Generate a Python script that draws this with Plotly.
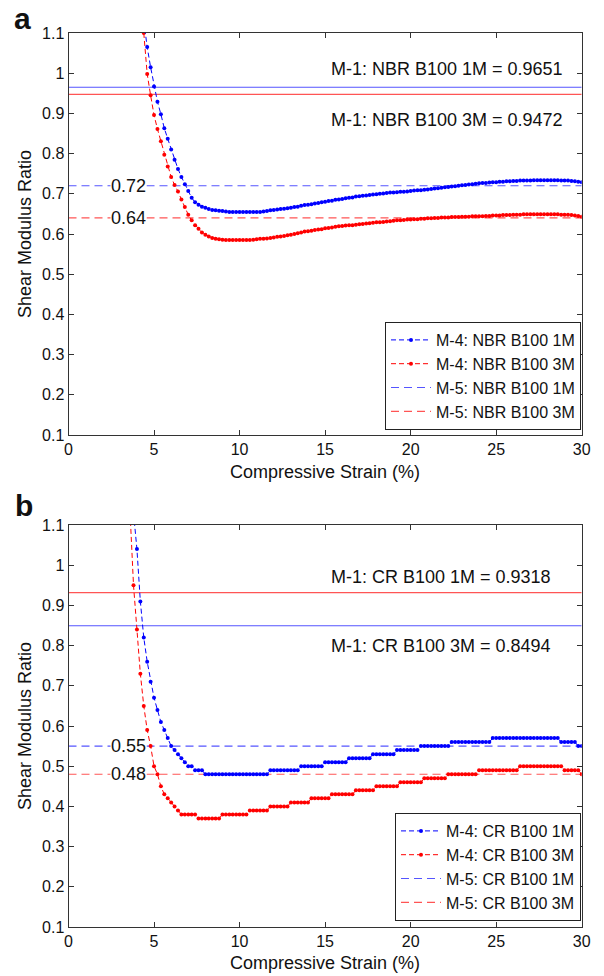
import plotly.graph_objects as go

# ---------------- data ----------------
STRAIN = [3.6, 3.8, 4.0, 4.2, 4.4, 4.6, 4.8, 5.0, 5.2, 5.4, 5.6, 5.8, 6.0, 6.2, 6.4, 6.6, 6.8, 7.0, 7.2, 7.4,
          7.6, 7.8, 8.0, 8.2, 8.4, 8.6, 8.8, 9.0, 9.2, 9.4, 9.6, 9.8, 10.0, 10.2, 10.4, 10.6, 10.8, 11.0, 11.2, 11.4,
          11.6, 11.8, 12.0, 12.2, 12.4, 12.6, 12.8, 13.0, 13.2, 13.4, 13.6, 13.8, 14.0, 14.2, 14.4, 14.6, 14.8, 15.0,
          15.2, 15.4, 15.6, 15.8, 16.0, 16.2, 16.4, 16.6, 16.8, 17.0, 17.2, 17.4, 17.6, 17.8, 18.0, 18.2, 18.4, 18.6,
          18.8, 19.0, 19.2, 19.4, 19.6, 19.8, 20.0, 20.2, 20.4, 20.6, 20.8, 21.0, 21.2, 21.4, 21.6, 21.8, 22.0, 22.2,
          22.4, 22.6, 22.8, 23.0, 23.2, 23.4, 23.6, 23.8, 24.0, 24.2, 24.4, 24.6, 24.8, 25.0, 25.2, 25.4, 25.6, 25.8,
          26.0, 26.2, 26.4, 26.6, 26.8, 27.0, 27.2, 27.4, 27.6, 27.8, 28.0, 28.2, 28.4, 28.6, 28.8, 29.0, 29.2, 29.4,
          29.6, 29.8, 30.0]

# Panel a: M-4 NBR B100 1M (strain 4.4 .. 30.0)
NBR_1M = [1.13, 1.065, 1.015, 0.967, 0.929, 0.898, 0.863, 0.837, 0.810, 0.785,
          0.762, 0.742, 0.724, 0.707, 0.690, 0.679, 0.673, 0.668, 0.665, 0.662,
          0.660, 0.659, 0.658, 0.657, 0.656, 0.655, 0.655, 0.655, 0.655, 0.655,
          0.655, 0.655, 0.655, 0.655, 0.655, 0.656, 0.657, 0.659, 0.660, 0.661,
          0.662, 0.663, 0.664, 0.665, 0.667, 0.668, 0.670, 0.672, 0.673, 0.674,
          0.676, 0.677, 0.679, 0.680, 0.682, 0.683, 0.685, 0.686, 0.687, 0.689,
          0.690, 0.691, 0.693, 0.694, 0.695, 0.696, 0.697, 0.698, 0.699, 0.700,
          0.701, 0.702, 0.703, 0.703, 0.704, 0.705, 0.705, 0.706, 0.707, 0.708,
          0.709, 0.709, 0.710, 0.711, 0.712, 0.713, 0.714, 0.715, 0.716, 0.717,
          0.718, 0.719, 0.720, 0.721, 0.722, 0.723, 0.724, 0.725, 0.726, 0.727,
          0.727, 0.728, 0.729, 0.729, 0.730, 0.730, 0.731, 0.731, 0.732, 0.732,
          0.733, 0.733, 0.733, 0.733, 0.734, 0.734, 0.734, 0.734, 0.734, 0.734,
          0.734, 0.734, 0.733, 0.733, 0.733, 0.732, 0.731, 0.730, 0.729]

# Panel a: M-4 NBR B100 3M (strain 4.4 .. 30.0)
NBR_3M = [1.10, 0.998, 0.945, 0.896, 0.861, 0.831, 0.797, 0.768, 0.742, 0.722,
          0.706, 0.686, 0.667, 0.648, 0.634, 0.622, 0.613, 0.604, 0.598, 0.594,
          0.590, 0.588, 0.587, 0.586, 0.585, 0.585, 0.585, 0.585, 0.585, 0.585,
          0.585, 0.585, 0.586, 0.587, 0.588, 0.588, 0.589, 0.590, 0.591, 0.593,
          0.594, 0.595, 0.597, 0.598, 0.600, 0.602, 0.604, 0.606, 0.607, 0.608,
          0.610, 0.611, 0.612, 0.614, 0.615, 0.616, 0.618, 0.619, 0.620, 0.621,
          0.622, 0.622, 0.623, 0.624, 0.625, 0.626, 0.627, 0.628, 0.629, 0.629,
          0.630, 0.631, 0.632, 0.633, 0.634, 0.634, 0.635, 0.636, 0.636, 0.637,
          0.637, 0.638, 0.638, 0.639, 0.639, 0.640, 0.640, 0.641, 0.641, 0.641,
          0.642, 0.642, 0.642, 0.643, 0.643, 0.643, 0.644, 0.644, 0.644, 0.644,
          0.645, 0.645, 0.646, 0.646, 0.646, 0.647, 0.647, 0.647, 0.648, 0.648,
          0.648, 0.649, 0.649, 0.649, 0.649, 0.649, 0.649, 0.649, 0.649, 0.649,
          0.649, 0.649, 0.648, 0.648, 0.648, 0.647, 0.646, 0.645, 0.643]

# Panel b: M-4 CR B100 1M (strain 3.8 .. 30.0)
CR_1M = [1.13, 1.04, 0.91, 0.82, 0.76, 0.71, 0.67, 0.64, 0.61, 0.59,
         0.57, 0.55, 0.54, 0.53, 0.52, 0.51, 0.50, 0.50, 0.49, 0.49,
         0.49, 0.48, 0.48, 0.48, 0.48, 0.48, 0.48, 0.48, 0.48, 0.48,
         0.48, 0.48, 0.48, 0.48, 0.48, 0.48, 0.48, 0.48, 0.48, 0.48,
         0.49, 0.49, 0.49, 0.49, 0.49, 0.49, 0.49, 0.49, 0.49, 0.50,
         0.50, 0.50, 0.50, 0.50, 0.50, 0.50, 0.51, 0.51, 0.51, 0.51,
         0.51, 0.51, 0.51, 0.52, 0.52, 0.52, 0.52, 0.52, 0.52, 0.52,
         0.53, 0.53, 0.53, 0.53, 0.53, 0.53, 0.53, 0.54, 0.54, 0.54,
         0.54, 0.54, 0.54, 0.54, 0.55, 0.55, 0.55, 0.55, 0.55, 0.55,
         0.55, 0.55, 0.55, 0.56, 0.56, 0.56, 0.56, 0.56, 0.56, 0.56,
         0.56, 0.56, 0.56, 0.56, 0.56, 0.57, 0.57, 0.57, 0.57, 0.57,
         0.57, 0.57, 0.57, 0.57, 0.57, 0.57, 0.57, 0.57, 0.57, 0.57,
         0.57, 0.57, 0.57, 0.57, 0.57, 0.56, 0.56, 0.56, 0.56, 0.56,
         0.55, 0.55]

# Panel b: M-4 CR B100 3M (strain 3.6 .. 30.0)
CR_3M = [1.13, 0.95, 0.84, 0.73, 0.65, 0.59, 0.55, 0.50, 0.48, 0.45,
         0.43, 0.42, 0.41, 0.40, 0.39, 0.38, 0.38, 0.38, 0.38, 0.38,
         0.37, 0.37, 0.37, 0.37, 0.37, 0.37, 0.37, 0.38, 0.38, 0.38,
         0.38, 0.38, 0.38, 0.38, 0.38, 0.39, 0.39, 0.39, 0.39, 0.39,
         0.39, 0.40, 0.40, 0.40, 0.40, 0.40, 0.40, 0.41, 0.41, 0.41,
         0.41, 0.41, 0.41, 0.42, 0.42, 0.42, 0.42, 0.42, 0.42, 0.43,
         0.43, 0.43, 0.43, 0.43, 0.43, 0.43, 0.44, 0.44, 0.44, 0.44,
         0.44, 0.44, 0.45, 0.45, 0.45, 0.45, 0.45, 0.45, 0.45, 0.46,
         0.46, 0.46, 0.46, 0.46, 0.46, 0.46, 0.47, 0.47, 0.47, 0.47,
         0.47, 0.47, 0.47, 0.48, 0.48, 0.48, 0.48, 0.48, 0.48, 0.48,
         0.48, 0.48, 0.49, 0.49, 0.49, 0.49, 0.49, 0.49, 0.49, 0.49,
         0.49, 0.49, 0.49, 0.49, 0.50, 0.50, 0.50, 0.50, 0.50, 0.50,
         0.50, 0.50, 0.50, 0.50, 0.50, 0.50, 0.50, 0.49, 0.49, 0.49,
         0.49, 0.49, 0.48]

# M-5 (dashed) and M-1 (solid) reference levels
M5_A = {"1M": 0.72, "3M": 0.64}
M1_A = {"1M": 0.9651, "3M": 0.9472}
M5_B = {"1M": 0.55, "3M": 0.48}
M1_B = {"1M": 0.9318, "3M": 0.8494}

X_RANGE = [0, 30]
Y_RANGE = [0.1, 1.1]
X_TICKS = [0, 5, 10, 15, 20, 25, 30]


def xs_for(vals):
    return STRAIN[len(STRAIN) - len(vals):]


# ---------------- figure ----------------
W, H = 604, 976
FONT = "Liberation Sans, Arial, Helvetica, sans-serif"
BLUE, RED = "rgb(0,0,255)", "rgb(255,0,0)"
LBLUE, LRED = "rgb(85,85,255)", "rgb(255,85,85)"
DASH = "8px,5px"

X0, X1 = 68.5, 581.7
A_TOP, A_BOT = 33, 435
B_TOP, B_BOT = 525, 927

fig = go.Figure()


def add_panel(xa, ya, leg, v1m, v3m, m5, m1, mat, m1_colors):
    # M-1 solid lines (colours as drawn in the original)
    fig.add_trace(go.Scatter(x=X_RANGE, y=[m1["1M"]] * 2, mode="lines", xaxis=xa, yaxis=ya,
                             line=dict(color=m1_colors[0], width=1.2), showlegend=False, hoverinfo="skip"))
    fig.add_trace(go.Scatter(x=X_RANGE, y=[m1["3M"]] * 2, mode="lines", xaxis=xa, yaxis=ya,
                             line=dict(color=m1_colors[1], width=1.2), showlegend=False, hoverinfo="skip"))
    # M-5 dashed
    fig.add_trace(go.Scatter(x=X_RANGE, y=[m5["1M"]] * 2, mode="lines", xaxis=xa, yaxis=ya,
                             name=f"M-5: {mat} B100 1M", legend=leg, legendrank=3,
                             line=dict(color=LBLUE, width=1.2, dash=DASH)))
    fig.add_trace(go.Scatter(x=X_RANGE, y=[m5["3M"]] * 2, mode="lines", xaxis=xa, yaxis=ya,
                             name=f"M-5: {mat} B100 3M", legend=leg, legendrank=4,
                             line=dict(color=LRED, width=1.2, dash=DASH)))
    # M-4 curves
    fig.add_trace(go.Scatter(x=xs_for(v3m), y=v3m, mode="lines+markers", xaxis=xa, yaxis=ya,
                             name=f"M-4: {mat} B100 3M", legend=leg, legendrank=2,
                             line=dict(color=RED, width=1, dash="5px,3px"),
                             marker=dict(color=RED, size=4)))
    fig.add_trace(go.Scatter(x=xs_for(v1m), y=v1m, mode="lines+markers", xaxis=xa, yaxis=ya,
                             name=f"M-4: {mat} B100 1M", legend=leg, legendrank=1,
                             line=dict(color=BLUE, width=1, dash="5px,3px"),
                             marker=dict(color=BLUE, size=4)))


add_panel("x", "y", "legend", NBR_1M, NBR_3M, M5_A, M1_A, "NBR", (LBLUE, LRED))
add_panel("x2", "y2", "legend2", CR_1M, CR_3M, M5_B, M1_B, "CR", (LRED, LBLUE))

axis_common = dict(showline=True, linecolor="#333", linewidth=1, mirror="ticks", ticks="inside",
                   ticklen=5, tickcolor="#333", showgrid=False, zeroline=False, automargin=False,
                   tickfont=dict(family=FONT, size=16, color="#111"))

leg_common = dict(x=581 / W, xanchor="right", yanchor="bottom", bordercolor="#222", borderwidth=1,
                  bgcolor="white", tracegroupgap=0, itemwidth=40,
                  font=dict(family=FONT, size=16, color="#111"))

fig.update_layout(
    width=W, height=H, margin=dict(l=0, r=0, t=0, b=0, autoexpand=False),
    paper_bgcolor="white", plot_bgcolor="white",
    font=dict(family=FONT, color="#111"),
    xaxis=dict(domain=[X0 / W, X1 / W], range=X_RANGE, tickvals=X_TICKS, anchor="y", **axis_common),
    yaxis=dict(domain=[1 - A_BOT / H, 1 - A_TOP / H], range=Y_RANGE, dtick=0.1, tick0=0.1, anchor="x",
               **axis_common),
    xaxis2=dict(domain=[X0 / W, X1 / W], range=X_RANGE, tickvals=X_TICKS, anchor="y2", **axis_common),
    yaxis2=dict(domain=[1 - B_BOT / H, 1 - B_TOP / H], range=Y_RANGE, dtick=0.1, tick0=0.1, anchor="x2",
                **axis_common),
    legend=dict(y=1 - 430 / H, **leg_common),
    legend2=dict(y=1 - 921 / H, **leg_common),
    showlegend=True,
)

ann = []


def pann(text, px, py, size, angle=0):
    ann.append(dict(text=text, x=px / W, y=1 - py / H, xref="paper", yref="paper", showarrow=False,
                    xanchor="center", yanchor="middle", textangle=angle,
                    font=dict(family=FONT, size=size, color="#111")))


# panel letters
pann("<b>a</b>", 22, 19, 30)
pann("<b>b</b>", 24, 505, 30)
# axis titles
for yc in [(A_TOP + A_BOT) / 2, (B_TOP + B_BOT) / 2]:
    pann("Shear Modulus Ratio", 25, yc, 18, angle=-90)
for yc in [472, 963]:
    pann("Compressive Strain (%)", 325, yc, 18)


def dann(text, x, y, xr, yr, size=18, bg=None):
    d = dict(text=text, x=x, y=y, xref=xr, yref=yr, showarrow=False, xanchor="center", yanchor="middle",
             font=dict(family=FONT, size=size, color="#111"))
    if bg:
        d.update(bgcolor=bg, borderpad=0)
    ann.append(d)


# M-1 labels
dann(f"M-1: NBR B100 1M = {M1_A['1M']}", 22.1, 1.01, "x", "y")
dann(f"M-1: NBR B100 3M = {M1_A['3M']}", 22.1, 0.884, "x", "y")
dann(f"M-1: CR B100 1M = {M1_B['1M']}", 21.8, 0.971, "x2", "y2")
dann(f"M-1: CR B100 3M = {M1_B['3M']}", 21.8, 0.80, "x2", "y2")
# M-5 value labels
for v, xr, yr in [(M5_A["1M"], "x", "y"), (M5_A["3M"], "x", "y"), (M5_B["1M"], "x2", "y2"), (M5_B["3M"], "x2", "y2")]:
    dann(f"{v:.2f}", 3.5, v, xr, yr, bg="white")

fig.update_layout(annotations=ann)

fig.write_html("out.html", config={"displayModeBar": False},
               post_script="document.body.style.margin='0px';document.body.style.overflow='hidden';")
